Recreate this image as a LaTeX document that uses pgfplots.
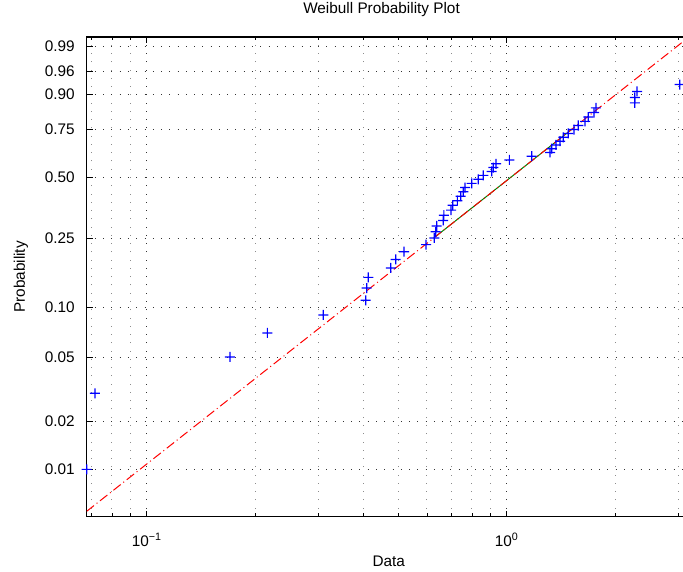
\documentclass[border=0pt]{standalone}
\usepackage{fontspec}
\setmainfont{Liberation Sans}
\usepackage{pgfplots}
\pgfplotsset{compat=1.18}
\definecolor{mblue}{rgb}{0,0,1}
\definecolor{mred}{rgb}{1,0,0}
\definecolor{mgreen}{rgb}{0,0.5,0}
\pgfdeclareplotmark{pcross}{%
  \pgfpathrectangle{\pgfpoint{-\pgfplotmarksize}{-0.45pt}}{\pgfpoint{2\pgfplotmarksize}{0.9pt}}%
  \pgfpathrectangle{\pgfpoint{-0.45pt}{-\pgfplotmarksize}}{\pgfpoint{0.9pt}{2\pgfplotmarksize}}%
  \pgfusepathqfill}
\begin{document}
\fontsize{11.5}{13.8}\selectfont
\begin{tikzpicture}
\begin{axis}[
  scale only axis,
  width=449.5pt, height=359.8pt,
  xmode=log,
  xmin=0.0681, xmax=3.148,
  ymin=-5.287, ymax=1.668,
  xtick={0.1,1},
  xticklabels={10\textsuperscript{−1},10\textsuperscript{0}},
  minor xtick={0.07,0.08,0.09,0.2,0.3,0.4,0.5,0.6,0.7,0.8,0.9,2,3},
  ytick={-4.600,-3.902,-2.970,-2.250,-1.246,-0.3665,0.3266,0.8340,1.1690,1.5272},
  yticklabels={0.01,0.02,0.05,0.10,0.25,0.50,0.75,0.90,0.96,0.99},
  ytick pos=left,
  tick align=inside,
  major tick length=4.5pt,
  minor tick length=2.5pt,
  every tick/.style={black, line width=0.5pt},
  axis line style={black, line width=0.8pt},
  xmajorgrids, xminorgrids, ymajorgrids,
  major grid style={black!80, line width=0.6pt, dash pattern=on 0.6pt off 5.6pt},
  minor grid style={black!45, line width=0.6pt, dash pattern=on 0.6pt off 5.6pt},
  xticklabel style={anchor=base, yshift=-22.5pt, font=\fontsize{11.5}{13.8}\selectfont},
  yticklabel style={xshift=-5pt, font=\fontsize{11.5}{13.8}\selectfont},
  title={Weibull Probability Plot},
  title style={at={(axis description cs:0.492,1)}, anchor=base, yshift=11.5pt, font=\fontsize{11.5}{13.8}\selectfont},
  xlabel={Data},
  xlabel style={at={(axis description cs:0.504,0)}, anchor=base, yshift=-37.5pt, font=\fontsize{11.5}{13.8}\selectfont},
  ylabel={Probability},
  ylabel style={at={(axis description cs:-0.103,0.5)}, anchor=base, font=\fontsize{11.5}{13.8}\selectfont},
]
% quartile segment (solid green) and fitted reference line (red dash-dot)
\addplot[draw=mgreen, line width=0.75pt] coordinates {(0.6293,-1.2393) (1.52,0.3349)};
\addplot[draw=mred, line width=0.75pt, dash pattern=on 7pt off 2.5pt on 0.75pt off 2.5pt] coordinates {(0.0681,-5.2085) (3.148,1.6345)};
% data: x value, transformed probability log(-log(1-p)), p=(i-0.5)/50
\addplot[color=mblue, only marks, mark=pcross, mark size=3.75pt, mark options={fill=mblue, draw=none, solid}] table {
x y
0.0681 -4.6001
0.0718 -3.4979
0.1703 -2.9702
0.2163 -2.6232
0.3094 -2.3612
0.4058 -2.1495
0.4084 -1.9714
0.4126 -1.8169
0.4763 -1.6803
0.4917 -1.5572
0.5184 -1.4451
0.5970 -1.3418
0.6293 -1.2459
0.6350 -1.1561
0.6390 -1.0715
0.6660 -0.9914
0.6690 -0.9151
0.7003 -0.8422
0.7079 -0.7722
0.7294 -0.7046
0.7451 -0.6393
0.7573 -0.5760
0.7660 -0.5144
0.7995 -0.4543
0.8340 -0.3955
0.8610 -0.3378
0.9084 -0.2810
0.9180 -0.2250
0.9340 -0.1696
1.0170 -0.1147
1.1730 -0.0602
1.3190 -0.0058
1.3340 0.0486
1.3700 0.1032
1.4060 0.1580
1.4360 0.2134
1.4830 0.2695
1.5380 0.3266
1.5810 0.3850
1.6500 0.4451
1.6850 0.5073
1.7480 0.5721
1.7700 0.6403
2.2680 0.7131
2.2680 0.7917
2.3010 0.8788
3.0240 0.9781
};
\end{axis}
\pgfresetboundingbox
\path[use as bounding box] ([xshift=-65pt,yshift=-40.7pt]current axis.south west) rectangle ([xshift=-2.25pt,yshift=27.75pt]current axis.north east);
\end{tikzpicture}
\end{document}
